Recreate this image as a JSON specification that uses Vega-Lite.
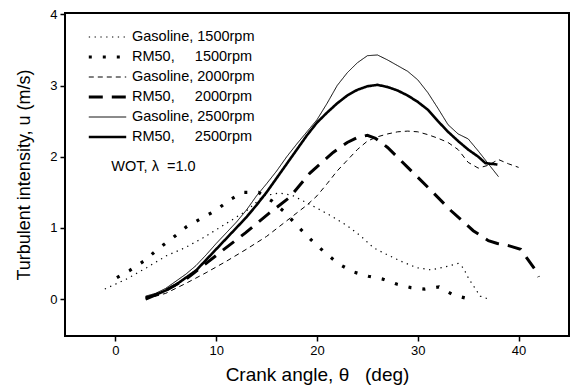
{
  "$schema": "https://vega.github.io/schema/vega-lite/v6.json",
  "width": 504,
  "height": 323,
  "autosize": "none",
  "padding": {"left": 65, "top": 13, "right": 1, "bottom": 56},
  "config": {
    "font": "Liberation Sans",
    "view": {"stroke": "black", "strokeWidth": 2},
    "axis": {"grid": false, "domain": false, "tickColor": "black", "tickWidth": 1.5, "tickSize": 5, "labelColor": "black", "titleColor": "black", "labelFontSize": 13, "labelFont": "Liberation Sans", "titleFont": "Liberation Sans", "titleFontWeight": "normal"}
  },
  "data": {"values": [
    {"s": "Gasoline, 1500rpm", "x": -1.05, "y": 0.14},
    {"s": "Gasoline, 1500rpm", "x": 1.1, "y": 0.28},
    {"s": "Gasoline, 1500rpm", "x": 3.1, "y": 0.44},
    {"s": "Gasoline, 1500rpm", "x": 5.1, "y": 0.61},
    {"s": "Gasoline, 1500rpm", "x": 6.9, "y": 0.72},
    {"s": "Gasoline, 1500rpm", "x": 8.7, "y": 0.86},
    {"s": "Gasoline, 1500rpm", "x": 11.1, "y": 1.07},
    {"s": "Gasoline, 1500rpm", "x": 13.0, "y": 1.24},
    {"s": "Gasoline, 1500rpm", "x": 14.7, "y": 1.45},
    {"s": "Gasoline, 1500rpm", "x": 16.3, "y": 1.49},
    {"s": "Gasoline, 1500rpm", "x": 17.5, "y": 1.46},
    {"s": "Gasoline, 1500rpm", "x": 18.6, "y": 1.38},
    {"s": "Gasoline, 1500rpm", "x": 20.1, "y": 1.27},
    {"s": "Gasoline, 1500rpm", "x": 21.5, "y": 1.16},
    {"s": "Gasoline, 1500rpm", "x": 23.0, "y": 1.03},
    {"s": "Gasoline, 1500rpm", "x": 24.3, "y": 0.89},
    {"s": "Gasoline, 1500rpm", "x": 25.6, "y": 0.72},
    {"s": "Gasoline, 1500rpm", "x": 27.0, "y": 0.62},
    {"s": "Gasoline, 1500rpm", "x": 28.5, "y": 0.52},
    {"s": "Gasoline, 1500rpm", "x": 29.9, "y": 0.44},
    {"s": "Gasoline, 1500rpm", "x": 31.3, "y": 0.41},
    {"s": "Gasoline, 1500rpm", "x": 32.7, "y": 0.45},
    {"s": "Gasoline, 1500rpm", "x": 34.0, "y": 0.5},
    {"s": "Gasoline, 1500rpm", "x": 34.5, "y": 0.44},
    {"s": "Gasoline, 1500rpm", "x": 35.0, "y": 0.3},
    {"s": "Gasoline, 1500rpm", "x": 35.4, "y": 0.21},
    {"s": "Gasoline, 1500rpm", "x": 36.2, "y": 0.04},
    {"s": "Gasoline, 1500rpm", "x": 37.0, "y": 0.0},

    {"s": "RM50, 1500rpm", "x": 0.15, "y": 0.3},
    {"s": "RM50, 1500rpm", "x": 1.4, "y": 0.4},
    {"s": "RM50, 1500rpm", "x": 2.9, "y": 0.54},
    {"s": "RM50, 1500rpm", "x": 4.2, "y": 0.7},
    {"s": "RM50, 1500rpm", "x": 5.7, "y": 0.86},
    {"s": "RM50, 1500rpm", "x": 7.1, "y": 1.02},
    {"s": "RM50, 1500rpm", "x": 8.6, "y": 1.14},
    {"s": "RM50, 1500rpm", "x": 9.9, "y": 1.24},
    {"s": "RM50, 1500rpm", "x": 11.4, "y": 1.4},
    {"s": "RM50, 1500rpm", "x": 12.7, "y": 1.5},
    {"s": "RM50, 1500rpm", "x": 14.2, "y": 1.5},
    {"s": "RM50, 1500rpm", "x": 15.5, "y": 1.38},
    {"s": "RM50, 1500rpm", "x": 16.8, "y": 1.22},
    {"s": "RM50, 1500rpm", "x": 18.1, "y": 1.02},
    {"s": "RM50, 1500rpm", "x": 19.5, "y": 0.82},
    {"s": "RM50, 1500rpm", "x": 20.8, "y": 0.65},
    {"s": "RM50, 1500rpm", "x": 22.2, "y": 0.49},
    {"s": "RM50, 1500rpm", "x": 23.6, "y": 0.38},
    {"s": "RM50, 1500rpm", "x": 25.1, "y": 0.32},
    {"s": "RM50, 1500rpm", "x": 26.5, "y": 0.28},
    {"s": "RM50, 1500rpm", "x": 27.9, "y": 0.21},
    {"s": "RM50, 1500rpm", "x": 29.3, "y": 0.16},
    {"s": "RM50, 1500rpm", "x": 30.7, "y": 0.14},
    {"s": "RM50, 1500rpm", "x": 32.1, "y": 0.17},
    {"s": "RM50, 1500rpm", "x": 33.5, "y": 0.06},
    {"s": "RM50, 1500rpm", "x": 34.8, "y": 0.01},

    {"s": "Gasoline, 2000rpm", "x": 3, "y": 0.0},
    {"s": "Gasoline, 2000rpm", "x": 5, "y": 0.08},
    {"s": "Gasoline, 2000rpm", "x": 7, "y": 0.22},
    {"s": "Gasoline, 2000rpm", "x": 9, "y": 0.37},
    {"s": "Gasoline, 2000rpm", "x": 11, "y": 0.53},
    {"s": "Gasoline, 2000rpm", "x": 13, "y": 0.7},
    {"s": "Gasoline, 2000rpm", "x": 15, "y": 0.88},
    {"s": "Gasoline, 2000rpm", "x": 17, "y": 1.1},
    {"s": "Gasoline, 2000rpm", "x": 19, "y": 1.32},
    {"s": "Gasoline, 2000rpm", "x": 20, "y": 1.45},
    {"s": "Gasoline, 2000rpm", "x": 21, "y": 1.62},
    {"s": "Gasoline, 2000rpm", "x": 22, "y": 1.8},
    {"s": "Gasoline, 2000rpm", "x": 23, "y": 1.95},
    {"s": "Gasoline, 2000rpm", "x": 24, "y": 2.1},
    {"s": "Gasoline, 2000rpm", "x": 25, "y": 2.22},
    {"s": "Gasoline, 2000rpm", "x": 26, "y": 2.28},
    {"s": "Gasoline, 2000rpm", "x": 27, "y": 2.32},
    {"s": "Gasoline, 2000rpm", "x": 28, "y": 2.35},
    {"s": "Gasoline, 2000rpm", "x": 29, "y": 2.36},
    {"s": "Gasoline, 2000rpm", "x": 30, "y": 2.35},
    {"s": "Gasoline, 2000rpm", "x": 31, "y": 2.31},
    {"s": "Gasoline, 2000rpm", "x": 32, "y": 2.26},
    {"s": "Gasoline, 2000rpm", "x": 33, "y": 2.2},
    {"s": "Gasoline, 2000rpm", "x": 34, "y": 2.1},
    {"s": "Gasoline, 2000rpm", "x": 35, "y": 1.92},
    {"s": "Gasoline, 2000rpm", "x": 36, "y": 1.84},
    {"s": "Gasoline, 2000rpm", "x": 37, "y": 1.88},
    {"s": "Gasoline, 2000rpm", "x": 38, "y": 1.96},
    {"s": "Gasoline, 2000rpm", "x": 39, "y": 1.9},
    {"s": "Gasoline, 2000rpm", "x": 40, "y": 1.85},

    {"s": "RM50, 2000rpm", "x": 3, "y": 0.0},
    {"s": "RM50, 2000rpm", "x": 5, "y": 0.12},
    {"s": "RM50, 2000rpm", "x": 7, "y": 0.28},
    {"s": "RM50, 2000rpm", "x": 8, "y": 0.39},
    {"s": "RM50, 2000rpm", "x": 9, "y": 0.5},
    {"s": "RM50, 2000rpm", "x": 10.6, "y": 0.68},
    {"s": "RM50, 2000rpm", "x": 12.9, "y": 0.93},
    {"s": "RM50, 2000rpm", "x": 15.2, "y": 1.2},
    {"s": "RM50, 2000rpm", "x": 17.3, "y": 1.43},
    {"s": "RM50, 2000rpm", "x": 19.3, "y": 1.77},
    {"s": "RM50, 2000rpm", "x": 21.6, "y": 2.06},
    {"s": "RM50, 2000rpm", "x": 23, "y": 2.2},
    {"s": "RM50, 2000rpm", "x": 24, "y": 2.27},
    {"s": "RM50, 2000rpm", "x": 25, "y": 2.3},
    {"s": "RM50, 2000rpm", "x": 25.8, "y": 2.26},
    {"s": "RM50, 2000rpm", "x": 27, "y": 2.13},
    {"s": "RM50, 2000rpm", "x": 29, "y": 1.85},
    {"s": "RM50, 2000rpm", "x": 31, "y": 1.57},
    {"s": "RM50, 2000rpm", "x": 33.3, "y": 1.24},
    {"s": "RM50, 2000rpm", "x": 35.5, "y": 0.96},
    {"s": "RM50, 2000rpm", "x": 37, "y": 0.82},
    {"s": "RM50, 2000rpm", "x": 37.9, "y": 0.78},
    {"s": "RM50, 2000rpm", "x": 39, "y": 0.75},
    {"s": "RM50, 2000rpm", "x": 40.2, "y": 0.7},
    {"s": "RM50, 2000rpm", "x": 41.7, "y": 0.4},
    {"s": "RM50, 2000rpm", "x": 42, "y": 0.31},

    {"s": "Gasoline, 2500rpm", "x": 3, "y": 0.04},
    {"s": "Gasoline, 2500rpm", "x": 4, "y": 0.08},
    {"s": "Gasoline, 2500rpm", "x": 5, "y": 0.15},
    {"s": "Gasoline, 2500rpm", "x": 6, "y": 0.25},
    {"s": "Gasoline, 2500rpm", "x": 7, "y": 0.35},
    {"s": "Gasoline, 2500rpm", "x": 8, "y": 0.47},
    {"s": "Gasoline, 2500rpm", "x": 9, "y": 0.62},
    {"s": "Gasoline, 2500rpm", "x": 10, "y": 0.78},
    {"s": "Gasoline, 2500rpm", "x": 11, "y": 0.93},
    {"s": "Gasoline, 2500rpm", "x": 12, "y": 1.08},
    {"s": "Gasoline, 2500rpm", "x": 13, "y": 1.25},
    {"s": "Gasoline, 2500rpm", "x": 14, "y": 1.45},
    {"s": "Gasoline, 2500rpm", "x": 15, "y": 1.62},
    {"s": "Gasoline, 2500rpm", "x": 16, "y": 1.8},
    {"s": "Gasoline, 2500rpm", "x": 17, "y": 2.0},
    {"s": "Gasoline, 2500rpm", "x": 18, "y": 2.18},
    {"s": "Gasoline, 2500rpm", "x": 19, "y": 2.35},
    {"s": "Gasoline, 2500rpm", "x": 20, "y": 2.52},
    {"s": "Gasoline, 2500rpm", "x": 21, "y": 2.75},
    {"s": "Gasoline, 2500rpm", "x": 22, "y": 3.0},
    {"s": "Gasoline, 2500rpm", "x": 23, "y": 3.18},
    {"s": "Gasoline, 2500rpm", "x": 24, "y": 3.32},
    {"s": "Gasoline, 2500rpm", "x": 25, "y": 3.42},
    {"s": "Gasoline, 2500rpm", "x": 26, "y": 3.43},
    {"s": "Gasoline, 2500rpm", "x": 27, "y": 3.36},
    {"s": "Gasoline, 2500rpm", "x": 28, "y": 3.28},
    {"s": "Gasoline, 2500rpm", "x": 29, "y": 3.2},
    {"s": "Gasoline, 2500rpm", "x": 30, "y": 3.08},
    {"s": "Gasoline, 2500rpm", "x": 31, "y": 2.9},
    {"s": "Gasoline, 2500rpm", "x": 32, "y": 2.68},
    {"s": "Gasoline, 2500rpm", "x": 33, "y": 2.45},
    {"s": "Gasoline, 2500rpm", "x": 34, "y": 2.32},
    {"s": "Gasoline, 2500rpm", "x": 35, "y": 2.25},
    {"s": "Gasoline, 2500rpm", "x": 36, "y": 2.08},
    {"s": "Gasoline, 2500rpm", "x": 37, "y": 1.9},
    {"s": "Gasoline, 2500rpm", "x": 38, "y": 1.72},

    {"s": "RM50, 2500rpm", "x": 3, "y": 0.02},
    {"s": "RM50, 2500rpm", "x": 4, "y": 0.06},
    {"s": "RM50, 2500rpm", "x": 5, "y": 0.12},
    {"s": "RM50, 2500rpm", "x": 6, "y": 0.2},
    {"s": "RM50, 2500rpm", "x": 7, "y": 0.3},
    {"s": "RM50, 2500rpm", "x": 8, "y": 0.4},
    {"s": "RM50, 2500rpm", "x": 9, "y": 0.55},
    {"s": "RM50, 2500rpm", "x": 10, "y": 0.7},
    {"s": "RM50, 2500rpm", "x": 11, "y": 0.85},
    {"s": "RM50, 2500rpm", "x": 12, "y": 1.0},
    {"s": "RM50, 2500rpm", "x": 13, "y": 1.15},
    {"s": "RM50, 2500rpm", "x": 14, "y": 1.32},
    {"s": "RM50, 2500rpm", "x": 15, "y": 1.5},
    {"s": "RM50, 2500rpm", "x": 16, "y": 1.7},
    {"s": "RM50, 2500rpm", "x": 17, "y": 1.9},
    {"s": "RM50, 2500rpm", "x": 18, "y": 2.1},
    {"s": "RM50, 2500rpm", "x": 19, "y": 2.3},
    {"s": "RM50, 2500rpm", "x": 20, "y": 2.48},
    {"s": "RM50, 2500rpm", "x": 21, "y": 2.62},
    {"s": "RM50, 2500rpm", "x": 22, "y": 2.75},
    {"s": "RM50, 2500rpm", "x": 23, "y": 2.86},
    {"s": "RM50, 2500rpm", "x": 24, "y": 2.94},
    {"s": "RM50, 2500rpm", "x": 25, "y": 2.99},
    {"s": "RM50, 2500rpm", "x": 26, "y": 3.01},
    {"s": "RM50, 2500rpm", "x": 27, "y": 2.98},
    {"s": "RM50, 2500rpm", "x": 28, "y": 2.93},
    {"s": "RM50, 2500rpm", "x": 29, "y": 2.86},
    {"s": "RM50, 2500rpm", "x": 30, "y": 2.77},
    {"s": "RM50, 2500rpm", "x": 31, "y": 2.66},
    {"s": "RM50, 2500rpm", "x": 32, "y": 2.5},
    {"s": "RM50, 2500rpm", "x": 33, "y": 2.35},
    {"s": "RM50, 2500rpm", "x": 34, "y": 2.22},
    {"s": "RM50, 2500rpm", "x": 35, "y": 2.1},
    {"s": "RM50, 2500rpm", "x": 36, "y": 2.0},
    {"s": "RM50, 2500rpm", "x": 36.7, "y": 1.91},
    {"s": "RM50, 2500rpm", "x": 37.9, "y": 1.89}
  ]},
  "layer": [
    {
      "mark": {"type": "line", "color": "black", "strokeCap": "butt"},
      "encoding": {
        "x": {"field": "x", "type": "quantitative", "scale": {"domain": [-5, 45], "nice": false, "zero": false},
              "axis": {"values": [0, 10, 20, 30, 40], "format": "d", "title": "Crank angle, θ\u00a0\u00a0\u00a0(deg)", "titleFontSize": 19, "titlePadding": 8, "labelPadding": 3}},
        "y": {"field": "y", "type": "quantitative", "scale": {"domain": [-0.52, 4.02], "nice": false, "zero": false},
              "axis": {"values": [0, 1, 2, 3, 4], "format": "d", "title": "Turbulent intensity, u (m/s)", "titleFontSize": 18, "titlePadding": 16, "labelPadding": 3}},
        "strokeDash": {"field": "s", "type": "nominal",
          "scale": {"domain": ["Gasoline, 1500rpm", "RM50, 1500rpm", "Gasoline, 2000rpm", "RM50, 2000rpm", "Gasoline, 2500rpm", "RM50, 2500rpm"],
                    "range": [[1.3, 4.5], [3, 11], [5, 4], [14, 9], [1, 0], [1, 0]]},
          "legend": {"title": null, "orient": "none", "legendX": 22, "legendY": 14, "symbolType": "stroke", "symbolSize": 1400, "symbolStrokeColor": "black", "labelFontSize": 14.5, "labelFont": "Liberation Sans", "labelColor": "black", "labelOffset": 4, "clipHeight": 20, "rowPadding": 0, "padding": 0,
                     "labelExpr": "replace(datum.label, 'RM50, ', 'RM50,\u00a0\u00a0\u00a0\u00a0\u00a0')"}},
        "strokeWidth": {"field": "s", "type": "nominal",
          "scale": {"type": "ordinal", "domain": ["Gasoline, 1500rpm", "RM50, 1500rpm", "Gasoline, 2000rpm", "RM50, 2000rpm", "Gasoline, 2500rpm", "RM50, 2500rpm"],
                    "range": [1.2, 3.2, 1, 3, 1, 2.6]},
          "legend": {"title": null, "orient": "none", "legendX": 22, "legendY": 14, "symbolType": "stroke", "symbolSize": 1400, "symbolStrokeColor": "black", "labelFontSize": 14.5, "labelFont": "Liberation Sans", "labelColor": "black", "labelOffset": 4, "clipHeight": 20, "rowPadding": 0, "padding": 0,
                     "labelExpr": "replace(datum.label, 'RM50, ', 'RM50,\u00a0\u00a0\u00a0\u00a0\u00a0')"}},
        "order": {"field": "x", "type": "quantitative"}
      }
    },
    {
      "data": {"values": [{"x": -0.4, "y": 1.85, "t": "WOT, λ\u00a0\u00a0=1.0"}]},
      "mark": {"type": "text", "align": "left", "baseline": "middle", "fontSize": 14.5, "font": "Liberation Sans", "color": "black"},
      "encoding": {
        "x": {"field": "x", "type": "quantitative"},
        "y": {"field": "y", "type": "quantitative"},
        "text": {"field": "t"}
      }
    }
  ]
}
